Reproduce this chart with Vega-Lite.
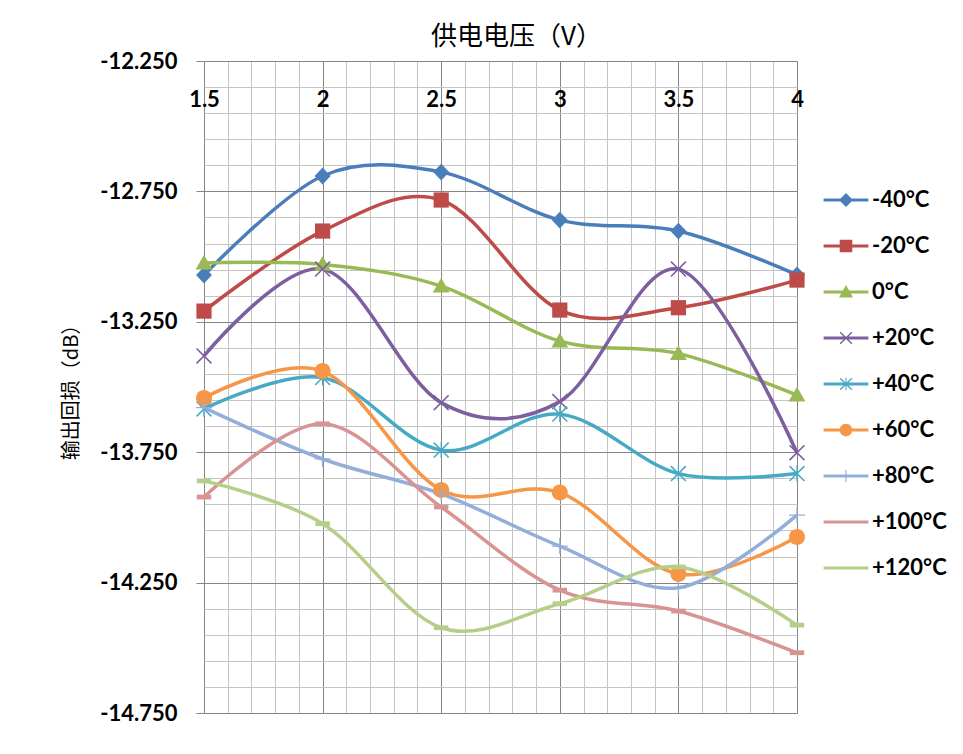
{
  "$schema": "https://vega.github.io/schema/vega-lite/v6.json",
  "width": 593,
  "height": 652,
  "padding": {"left": 61, "top": 23, "right": 10, "bottom": 10},
  "background": "white",
  "config": {"view": {"stroke": null}},
  "data": {
    "values": [
      {"v": 1.5, "db": -13.071, "s": "-40°C"}, {"v": 2, "db": -12.691, "s": "-40°C"}, {"v": 2.5, "db": -12.676, "s": "-40°C"}, {"v": 3, "db": -12.860, "s": "-40°C"}, {"v": 3.5, "db": -12.902, "s": "-40°C"}, {"v": 4, "db": -13.070, "s": "-40°C"},
      {"v": 1.5, "db": -13.209, "s": "-20°C"}, {"v": 2, "db": -12.902, "s": "-20°C"}, {"v": 2.5, "db": -12.783, "s": "-20°C"}, {"v": 3, "db": -13.205, "s": "-20°C"}, {"v": 3.5, "db": -13.196, "s": "-20°C"}, {"v": 4, "db": -13.090, "s": "-20°C"},
      {"v": 1.5, "db": -13.025, "s": "0°C"}, {"v": 2, "db": -13.030, "s": "0°C"}, {"v": 2.5, "db": -13.113, "s": "0°C"}, {"v": 3, "db": -13.324, "s": "0°C"}, {"v": 3.5, "db": -13.372, "s": "0°C"}, {"v": 4, "db": -13.531, "s": "0°C"},
      {"v": 1.5, "db": -13.381, "s": "+20°C"}, {"v": 2, "db": -13.048, "s": "+20°C"}, {"v": 2.5, "db": -13.560, "s": "+20°C"}, {"v": 3, "db": -13.556, "s": "+20°C"}, {"v": 3.5, "db": -13.048, "s": "+20°C"}, {"v": 4, "db": -13.752, "s": "+20°C"},
      {"v": 1.5, "db": -13.584, "s": "+40°C"}, {"v": 2, "db": -13.464, "s": "+40°C"}, {"v": 2.5, "db": -13.742, "s": "+40°C"}, {"v": 3, "db": -13.604, "s": "+40°C"}, {"v": 3.5, "db": -13.832, "s": "+40°C"}, {"v": 4, "db": -13.832, "s": "+40°C"},
      {"v": 1.5, "db": -13.542, "s": "+60°C"}, {"v": 2, "db": -13.439, "s": "+60°C"}, {"v": 2.5, "db": -13.895, "s": "+60°C"}, {"v": 3, "db": -13.905, "s": "+60°C"}, {"v": 3.5, "db": -14.217, "s": "+60°C"}, {"v": 4, "db": -14.075, "s": "+60°C"},
      {"v": 1.5, "db": -13.579, "s": "+80°C"}, {"v": 2, "db": -13.776, "s": "+80°C"}, {"v": 2.5, "db": -13.910, "s": "+80°C"}, {"v": 3, "db": -14.110, "s": "+80°C"}, {"v": 3.5, "db": -14.270, "s": "+80°C"}, {"v": 4, "db": -13.991, "s": "+80°C"},
      {"v": 1.5, "db": -13.922, "s": "+100°C"}, {"v": 2, "db": -13.641, "s": "+100°C"}, {"v": 2.5, "db": -13.960, "s": "+100°C"}, {"v": 3, "db": -14.279, "s": "+100°C"}, {"v": 3.5, "db": -14.359, "s": "+100°C"}, {"v": 4, "db": -14.519, "s": "+100°C"},
      {"v": 1.5, "db": -13.860, "s": "+120°C"}, {"v": 2, "db": -14.024, "s": "+120°C"}, {"v": 2.5, "db": -14.423, "s": "+120°C"}, {"v": 3, "db": -14.331, "s": "+120°C"}, {"v": 3.5, "db": -14.190, "s": "+120°C"}, {"v": 4, "db": -14.413, "s": "+120°C"}
    ]
  },
  "encoding": {
    "x": {
      "field": "v", "type": "quantitative",
      "scale": {"domain": [1.5, 4], "nice": false, "zero": false},
      "axis": {
        "orient": "top",
        "title": "供电电压（V）",
        "titleFont": "Noto Sans CJK SC", "titleFontSize": 26, "titleFontWeight": "normal", "titleColor": "#000000", "titlePadding": 12,
        "titleX": 312,
        "values": [1.5, 1.6, 1.7, 1.8, 1.9, 2, 2.1, 2.2, 2.3, 2.4, 2.5, 2.6, 2.7, 2.8, 2.9, 3, 3.1, 3.2, 3.3, 3.4, 3.5, 3.6, 3.7, 3.8, 3.9, 4],
        "grid": true,
        "gridColor": {"condition": {"test": "abs(datum.value*2 - round(datum.value*2)) < 0.001", "value": "#858585"}, "value": "#C4C4C4"},
        "gridWidth": 1,
        "ticks": false, "tickSize": 0, "domain": false,
        "labelExpr": "abs(datum.value*2 - round(datum.value*2)) < 0.001 ? toString(round(datum.value*2)/2) : ''",
        "labelFont": "Lato", "labelFontSize": 22, "labelFontWeight": "bold", "labelColor": "#000000",
        "labelBaseline": "middle", "labelPadding": -38, "labelFlush": false, "labelOverlap": false
      }
    },
    "y": {
      "field": "db", "type": "quantitative",
      "scale": {"domain": [-14.75, -12.25], "nice": false, "zero": false},
      "axis": {
        "title": "输出回损（dB）",
        "titleFont": "Noto Sans CJK SC", "titleFontSize": 20, "titleFontWeight": "normal", "titleColor": "#000000", "titlePadding": 18,
        "values": [-12.25, -12.35, -12.45, -12.55, -12.65, -12.75, -12.85, -12.95, -13.05, -13.15, -13.25, -13.35, -13.45, -13.55, -13.65, -13.75, -13.85, -13.95, -14.05, -14.15, -14.25, -14.35, -14.45, -14.55, -14.65, -14.75],
        "grid": true,
        "gridColor": {"condition": {"test": "abs((datum.value+12.25)*2 - round((datum.value+12.25)*2)) < 0.001", "value": "#858585"}, "value": "#C4C4C4"},
        "gridWidth": 1,
        "ticks": true, "tickSize": 8,
        "tickColor": {"condition": {"test": "abs((datum.value+12.25)*2 - round((datum.value+12.25)*2)) < 0.001", "value": "#858585"}, "value": "transparent"},
        "domain": false,
        "labelExpr": "abs((datum.value+12.25)*2 - round((datum.value+12.25)*2)) < 0.001 ? '-' + format(abs(datum.value), '.3f') : ''",
        "labelFont": "Lato", "labelFontSize": 22, "labelFontWeight": "bold", "labelColor": "#000000",
        "labelPadding": 19, "labelOverlap": false, "labelFlush": false
      }
    }
  },
  "layer": [
    {
      "mark": {"type": "line", "interpolate": "cardinal", "tension": 0, "strokeWidth": 3.5},
      "encoding": {
        "stroke": {
          "field": "s", "type": "nominal",
          "scale": {
            "domain": ["+120°C", "+100°C", "+80°C", "+60°C", "+40°C", "+20°C", "0°C", "-20°C", "-40°C"],
            "range": ["#B5CF8A", "#D89492", "#94AEDA", "#F79646", "#46AAC4", "#7D5FA0", "#98B954", "#BE4B48", "#4A7EBB"]
          },
          "legend": null
        }
      }
    },
    {
      "mark": {"type": "point", "filled": true, "opacity": 1, "size": 256, "strokeWidth": 0},
      "encoding": {
        "shape": {
          "field": "s", "type": "nominal",
          "scale": {
            "domain": ["+120°C", "+100°C", "+80°C", "+60°C", "+40°C", "+20°C", "0°C", "-20°C", "-40°C"],
            "range": [
              "M-0.9,-0.3H0.9V0.3H-0.9Z",
              "M-0.9,-0.3H0.9V0.3H-0.9Z",
              "M-0.08,-1H0.08V1H-0.08Z M-1,-0.08H1V0.08H-1Z",
              "M-1,0A1,1 0 1,1 1,0A1,1 0 1,1 -1,0Z",
              "M-1,-0.86L-0.86,-1L1,0.86L0.86,1Z M0.86,-1L1,-0.86L-0.86,1L-1,0.86Z M-0.08,-1H0.08V1H-0.08Z",
              "M-1,-0.86L-0.86,-1L1,0.86L0.86,1Z M0.86,-1L1,-0.86L-0.86,1L-1,0.86Z",
              "M0,-1.05L1.05,0.8H-1.05Z",
              "M-0.95,-0.95H0.95V0.95H-0.95Z",
              "M0,-1.05L1,0L0,1.05L-1,0Z"
            ]
          },
          "legend": null
        },
        "fill": {
          "field": "s", "type": "nominal",
          "scale": {
            "domain": ["-40°C", "-20°C", "0°C", "+20°C", "+40°C", "+60°C", "+80°C", "+100°C", "+120°C"],
            "range": ["#4A7EBB", "#BE4B48", "#98B954", "#7D5FA0", "#46AAC4", "#F79646", "#94AEDA", "#D89492", "#B5CF8A"]
          },
          "legend": {
            "title": null,
            "orient": "none",
            "legendX": 631,
            "legendY": 128,
            "symbolSize": 196,
            "symbolStrokeWidth": 0,
            "symbolOpacity": 1,
            "labelFont": "Lato", "labelFontSize": 22, "labelFontWeight": "bold", "labelColor": "#000000",
            "labelOffset": 15, "labelLimit": 0,
            "rowPadding": 24,
            "encode": {
              "symbols": {
                "update": {
                  "shape": {"signal": "['M-3.2,-0.2H3.2V0.2H-3.2Z M0,-1L1,0L0,1L-1,0Z', 'M-3.2,-0.2H3.2V0.2H-3.2Z M-0.9,-0.9H0.9V0.9H-0.9Z', 'M-3.2,-0.2H3.2V0.2H-3.2Z M0,-1L1,0.8H-1Z', 'M-3.2,-0.2H3.2V0.2H-3.2Z M-0.9,-0.76L-0.76,-0.9L0.9,0.76L0.76,0.9Z M0.76,-0.9L0.9,-0.76L-0.76,0.9L-0.9,0.76Z', 'M-3.2,-0.2H3.2V0.2H-3.2Z M-0.9,-0.76L-0.76,-0.9L0.9,0.76L0.76,0.9Z M0.76,-0.9L0.9,-0.76L-0.76,0.9L-0.9,0.76Z M-0.08,-0.9H0.08V0.9H-0.08Z', 'M-3.2,-0.2H3.2V0.2H-3.2Z M-0.9,0A0.9,0.9 0 1,1 0.9,0A0.9,0.9 0 1,1 -0.9,0Z', 'M-3.2,-0.2H3.2V0.2H-3.2Z M-0.08,-0.9H0.08V0.9H-0.08Z', 'M-3.2,-0.2H3.2V0.2H-3.2Z', 'M-3.2,-0.2H3.2V0.2H-3.2Z'][indexof(['-40°C', '-20°C', '0°C', '+20°C', '+40°C', '+60°C', '+80°C', '+100°C', '+120°C'], datum.value)]"}
                }
              }
            }
          }
        }
      }
    }
  ]
}
